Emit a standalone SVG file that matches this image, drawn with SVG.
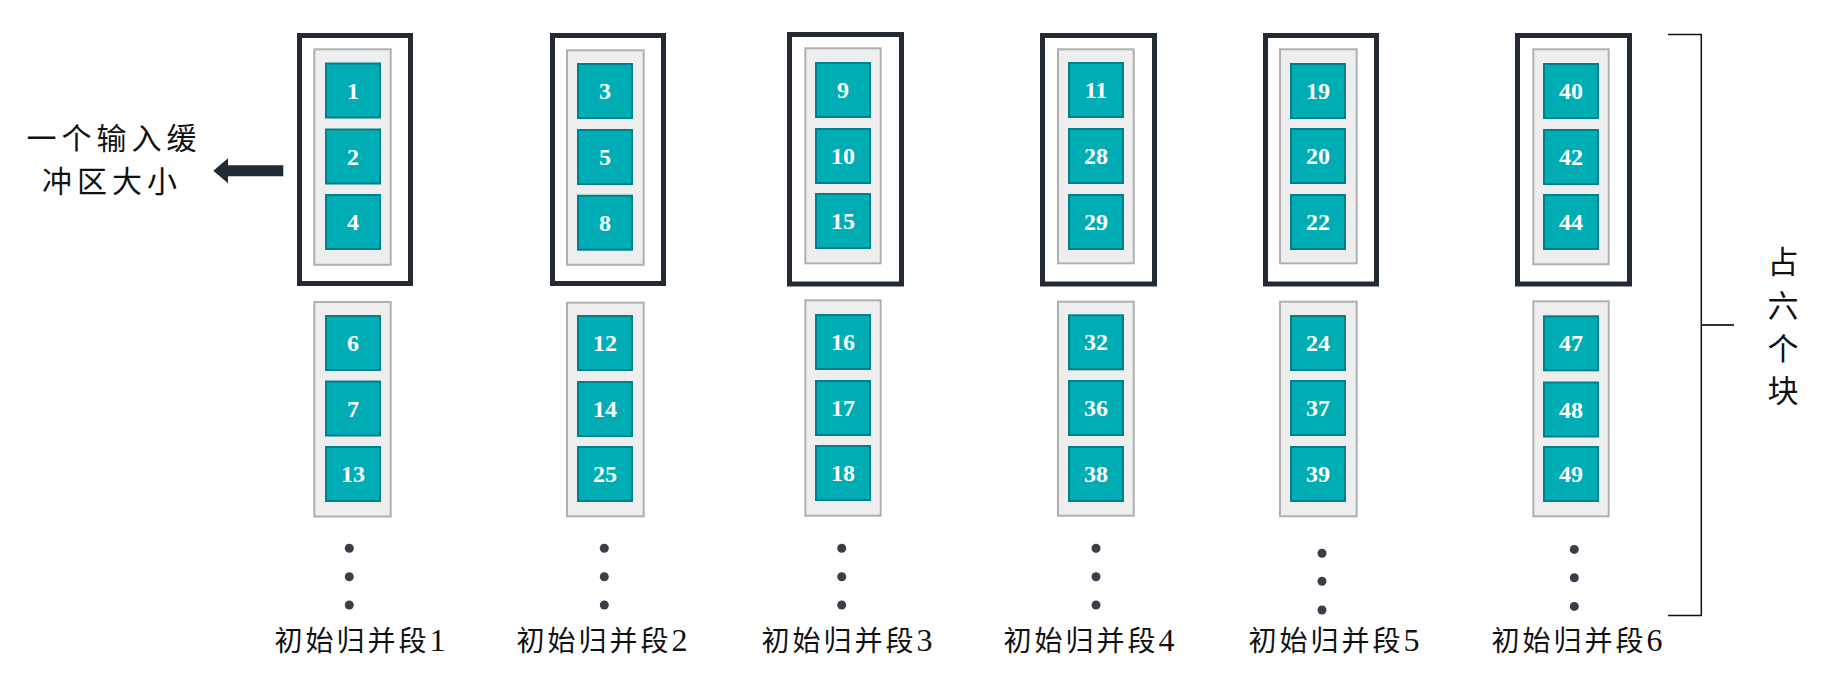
<svg xmlns="http://www.w3.org/2000/svg" width="1829" height="673" viewBox="0 0 1829 673">
<style>
.buf{fill:#ffffff;stroke:#232a33;stroke-width:5}
.run{fill:#eeeeee;stroke:#b0b0b0;stroke-width:2}
.blk{fill:#00adb5;stroke:#00808a;stroke-width:2}
.num{font-family:"Liberation Serif",serif;font-weight:bold;font-size:24px;fill:#ffffff;text-anchor:middle}
.dot{fill:#3a3e48}
.lbl{font-family:"Liberation Serif","Noto Sans CJK SC",serif;font-size:28px;fill:#111111;text-anchor:middle;letter-spacing:3px}
.dg{font-size:32px;letter-spacing:0}
.side{font-family:"Noto Sans CJK SC",sans-serif;font-size:30px;fill:#111111;text-anchor:middle;letter-spacing:5px}
.vert{font-family:"Noto Sans CJK SC",sans-serif;font-size:31px;fill:#111111;text-anchor:middle}
</style>
<rect width="1829" height="673" fill="#ffffff"/>

<g id="run1">
<rect class="buf" x="299.5" y="35.5" width="111" height="248"/>
<rect class="run" x="314.3" y="49.3" width="76.4" height="215.5"/>
<rect class="blk" x="326" y="63.5" width="54" height="54"/><text class="num" x="353" y="98.5">1</text>
<rect class="blk" x="326" y="129.5" width="54" height="54"/><text class="num" x="353" y="164.5">2</text>
<rect class="blk" x="326" y="195" width="54" height="54"/><text class="num" x="353" y="230">4</text>
<rect class="run" x="314.3" y="302" width="76.4" height="214.5"/>
<rect class="blk" x="326" y="316" width="54" height="54"/><text class="num" x="353" y="351">6</text>
<rect class="blk" x="326" y="381.5" width="54" height="54"/><text class="num" x="353" y="416.5">7</text>
<rect class="blk" x="326" y="447" width="54" height="54"/><text class="num" x="353" y="482">13</text>
<circle class="dot" cx="349.3" cy="548.3" r="4.5"/><circle class="dot" cx="349.3" cy="576.7" r="4.5"/><circle class="dot" cx="349.3" cy="605" r="4.5"/>
<text class="lbl" x="360" y="651">初始归并段<tspan class="dg">1</tspan></text>
</g>

<g id="run2">
<rect class="buf" x="552.5" y="35.5" width="111" height="248"/>
<rect class="run" x="567" y="50.3" width="76.7" height="214.5"/>
<rect class="blk" x="578" y="64" width="54" height="54"/><text class="num" x="605" y="99">3</text>
<rect class="blk" x="578" y="130" width="54" height="54"/><text class="num" x="605" y="165">5</text>
<rect class="blk" x="578" y="195.7" width="54" height="54"/><text class="num" x="605" y="230.5">8</text>
<rect class="run" x="567" y="302.7" width="76.7" height="213.6"/>
<rect class="blk" x="578" y="316" width="54" height="54"/><text class="num" x="605" y="351">12</text>
<rect class="blk" x="578" y="382" width="54" height="54"/><text class="num" x="605" y="417">14</text>
<rect class="blk" x="578" y="447" width="54" height="54"/><text class="num" x="605" y="482">25</text>
<circle class="dot" cx="604.3" cy="548.3" r="4.5"/><circle class="dot" cx="604.3" cy="576.7" r="4.5"/><circle class="dot" cx="604.3" cy="605" r="4.5"/>
<text class="lbl" x="602" y="651">初始归并段<tspan class="dg">2</tspan></text>
</g>

<g id="run3">
<rect class="buf" x="789.5" y="34.5" width="112" height="249.5"/>
<rect class="run" x="805.3" y="48.3" width="75.4" height="215"/>
<rect class="blk" x="816" y="63" width="54" height="54"/><text class="num" x="843" y="98">9</text>
<rect class="blk" x="816" y="129" width="54" height="54"/><text class="num" x="843" y="164">10</text>
<rect class="blk" x="816" y="194" width="54" height="54"/><text class="num" x="843" y="229">15</text>
<rect class="run" x="805.3" y="300.3" width="75.4" height="215.4"/>
<rect class="blk" x="816" y="315" width="54" height="54"/><text class="num" x="843" y="350">16</text>
<rect class="blk" x="816" y="381" width="54" height="54"/><text class="num" x="843" y="416">17</text>
<rect class="blk" x="816" y="446" width="54" height="54"/><text class="num" x="843" y="481">18</text>
<circle class="dot" cx="841.7" cy="548.3" r="4.5"/><circle class="dot" cx="841.7" cy="576.7" r="4.5"/><circle class="dot" cx="841.7" cy="605" r="4.5"/>
<text class="lbl" x="847" y="651">初始归并段<tspan class="dg">3</tspan></text>
</g>

<g id="run4">
<rect class="buf" x="1042.5" y="35.5" width="112" height="248.5"/>
<rect class="run" x="1058" y="49.3" width="75.7" height="214"/>
<rect class="blk" x="1069" y="63" width="54" height="54"/><text class="num" x="1096" y="98">11</text>
<rect class="blk" x="1069" y="129" width="54" height="54"/><text class="num" x="1096" y="164">28</text>
<rect class="blk" x="1069" y="195" width="54" height="54"/><text class="num" x="1096" y="230">29</text>
<rect class="run" x="1058" y="301.7" width="75.7" height="214"/>
<rect class="blk" x="1069" y="315.3" width="54" height="54"/><text class="num" x="1096" y="350.3">32</text>
<rect class="blk" x="1069" y="381" width="54" height="54"/><text class="num" x="1096" y="416">36</text>
<rect class="blk" x="1069" y="447" width="54" height="54"/><text class="num" x="1096" y="482">38</text>
<circle class="dot" cx="1096" cy="548.3" r="4.5"/><circle class="dot" cx="1096" cy="576.7" r="4.5"/><circle class="dot" cx="1096" cy="605" r="4.5"/>
<text class="lbl" x="1089" y="651">初始归并段<tspan class="dg">4</tspan></text>
</g>

<g id="run5">
<rect class="buf" x="1265.5" y="35.5" width="111" height="248.5"/>
<rect class="run" x="1280" y="49.3" width="76.7" height="214"/>
<rect class="blk" x="1291" y="64" width="54" height="54"/><text class="num" x="1318" y="99">19</text>
<rect class="blk" x="1291" y="129" width="54" height="54"/><text class="num" x="1318" y="164">20</text>
<rect class="blk" x="1291" y="195" width="54" height="54"/><text class="num" x="1318" y="230">22</text>
<rect class="run" x="1280" y="301.7" width="76.7" height="214.6"/>
<rect class="blk" x="1291" y="316" width="54" height="54"/><text class="num" x="1318" y="351">24</text>
<rect class="blk" x="1291" y="381" width="54" height="54"/><text class="num" x="1318" y="416">37</text>
<rect class="blk" x="1291" y="447" width="54" height="54"/><text class="num" x="1318" y="482">39</text>
<circle class="dot" cx="1322" cy="553.3" r="4.5"/><circle class="dot" cx="1322" cy="581.3" r="4.5"/><circle class="dot" cx="1322" cy="610" r="4.5"/>
<text class="lbl" x="1334" y="651">初始归并段<tspan class="dg">5</tspan></text>
</g>

<g id="run6">
<rect class="buf" x="1517.5" y="35.5" width="112" height="248.5"/>
<rect class="run" x="1533.3" y="49.3" width="75.4" height="215"/>
<rect class="blk" x="1544" y="64" width="54" height="54"/><text class="num" x="1571" y="99">40</text>
<rect class="blk" x="1544" y="130" width="54" height="54"/><text class="num" x="1571" y="165">42</text>
<rect class="blk" x="1544" y="195" width="54" height="54"/><text class="num" x="1571" y="230">44</text>
<rect class="run" x="1533.3" y="301.3" width="75.4" height="215"/>
<rect class="blk" x="1544" y="316.3" width="54" height="54"/><text class="num" x="1571" y="351.3">47</text>
<rect class="blk" x="1544" y="382.5" width="54" height="54"/><text class="num" x="1571" y="417.5">48</text>
<rect class="blk" x="1544" y="447" width="54" height="54"/><text class="num" x="1571" y="482">49</text>
<circle class="dot" cx="1574.3" cy="549.4" r="4.5"/><circle class="dot" cx="1574.3" cy="577.7" r="4.5"/><circle class="dot" cx="1574.3" cy="606.4" r="4.5"/>
<text class="lbl" x="1577" y="651">初始归并段<tspan class="dg">6</tspan></text>
</g>

<g id="bufferLabel">
<text class="side" x="114" y="149">一个输入缓</text>
<text class="side" x="112" y="192">冲区大小</text>
</g>

<g id="blocksLabel">
<text class="vert" x="1783" y="273">占</text>
<text class="vert" x="1783" y="317">六</text>
<text class="vert" x="1783" y="360">个</text>
<text class="vert" x="1783" y="402">块</text>
</g>

<g id="connectors">
<path d="M283.3,165.2 H228 V158.3 L213.3,170.7 L228,183.3 V176.2 H283.3 Z" fill="#232a33"/>
<path d="M1668,34.6 H1701.3 V615.6 H1668" fill="none" stroke="#111111" stroke-width="1.5"/>
<path d="M1701.3,325 H1734" fill="none" stroke="#333333" stroke-width="2"/>
</g>
</svg>
